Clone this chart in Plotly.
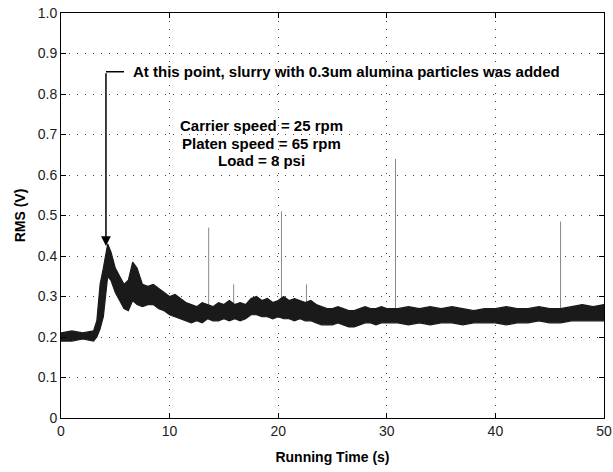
import plotly.graph_objects as go

# envelope of the noisy RMS trace
t = [0, 1, 2, 3, 3.3, 3.6, 3.9, 4.1, 4.3, 4.6, 5.0, 5.4, 5.8, 6.2, 6.6, 7.0, 7.5, 8.0, 8.5, 9.0,
     9.5, 10, 10.5, 11, 11.5, 12, 12.5, 13, 13.5, 14, 14.5, 15, 15.5, 16, 16.5, 17, 17.5, 18, 18.5, 19,
     19.5, 20, 20.5, 21, 21.5, 22, 22.5, 23, 23.5, 24, 24.5, 25, 25.5, 26, 26.5, 27, 27.5, 28, 28.5, 29,
     29.5, 30, 31, 32, 33, 34, 35, 36, 37, 38, 39, 40, 41, 42, 43, 44, 45, 46, 47, 48, 49, 50]
upper = [0.21, 0.215, 0.21, 0.215, 0.24, 0.33, 0.37, 0.40, 0.43, 0.41, 0.37, 0.35, 0.33, 0.34, 0.385, 0.37, 0.33, 0.325, 0.33, 0.32,
         0.31, 0.30, 0.305, 0.295, 0.285, 0.28, 0.275, 0.285, 0.28, 0.275, 0.285, 0.28, 0.29, 0.28, 0.285, 0.28, 0.295, 0.30, 0.29, 0.295,
         0.285, 0.29, 0.30, 0.29, 0.295, 0.29, 0.285, 0.29, 0.28, 0.275, 0.27, 0.27, 0.275, 0.27, 0.265, 0.265, 0.27, 0.275, 0.27, 0.27,
         0.275, 0.27, 0.27, 0.275, 0.27, 0.275, 0.27, 0.275, 0.27, 0.265, 0.27, 0.27, 0.275, 0.27, 0.27, 0.275, 0.27, 0.27, 0.275, 0.28, 0.275, 0.28]
lower = [0.19, 0.19, 0.195, 0.19, 0.20, 0.22, 0.25, 0.30, 0.35, 0.34, 0.31, 0.29, 0.27, 0.265, 0.29, 0.28, 0.275, 0.28, 0.28, 0.27,
         0.265, 0.255, 0.25, 0.245, 0.24, 0.235, 0.24, 0.235, 0.245, 0.24, 0.24, 0.245, 0.24, 0.245, 0.24, 0.245, 0.255, 0.255, 0.25, 0.25,
         0.245, 0.25, 0.245, 0.245, 0.24, 0.245, 0.24, 0.24, 0.235, 0.23, 0.23, 0.23, 0.235, 0.23, 0.225, 0.225, 0.23, 0.235, 0.235, 0.23,
         0.235, 0.235, 0.235, 0.23, 0.235, 0.23, 0.235, 0.235, 0.23, 0.235, 0.235, 0.235, 0.23, 0.235, 0.235, 0.24, 0.235, 0.235, 0.24, 0.24, 0.24, 0.24]

# isolated spikes
spike_t = [13.6, 15.9, 20.3, 22.6, 30.8, 46.0]
spike_top = [0.47, 0.33, 0.51, 0.33, 0.64, 0.485]
spike_base = [0.27, 0.27, 0.28, 0.28, 0.26, 0.26]

xticks = [0, 10, 20, 30, 40, 50]
yticks = [0, 0.1, 0.2, 0.3, 0.4, 0.5, 0.6, 0.7, 0.8, 0.9, 1.0]
ylabels = ["0", "0.1", "0.2", "0.3", "0.4", "0.5", "0.6", "0.7", "0.8", "0.9", "1.0"]

conditions = ["Carrier speed = 25 rpm", "Platen speed = 65 rpm", "Load = 8 psi"]
condition_y = [0.723, 0.679, 0.637]

fig = go.Figure()

sx, sy = [], []
for x0, top, base in zip(spike_t, spike_top, spike_base):
    sx += [x0, x0, None]
    sy += [base, top, None]
fig.add_trace(go.Scatter(x=sx, y=sy, mode="lines", line=dict(color="#888", width=1), hoverinfo="skip"))

fig.add_trace(go.Scatter(x=t, y=lower, mode="lines", line=dict(color="#1a1a1a", width=1.2), hoverinfo="skip"))
fig.add_trace(go.Scatter(x=t, y=upper, mode="lines", fill="tonexty", fillcolor="#1a1a1a",
                         line=dict(color="#1a1a1a", width=1.2), hoverinfo="skip"))

# elbow arrow
fig.add_shape(type="line", x0=4.14, x1=5.8, y0=0.855, y1=0.855, line=dict(color="black", width=1.5))
fig.add_annotation(x=4.14, y=0.425, ax=4.14, ay=0.855, axref="x", ayref="y", xref="x", yref="y",
                   text="", showarrow=True, arrowhead=2, arrowsize=1.3, arrowwidth=1.5, arrowcolor="black")
fig.add_annotation(x=6.4, y=0.855, xanchor="left", yanchor="middle", showarrow=False,
                   text="<b>At this point, slurry with 0.3um alumina particles was added</b>",
                   font=dict(size=15, color="black"))
for line, yv in zip(conditions, condition_y):
    fig.add_annotation(x=18.5, y=yv, showarrow=False, text="<b>" + line + "</b>",
                       font=dict(size=15, color="black"))

axis_style = dict(showline=True, linecolor="black", linewidth=1, mirror="ticks", ticks="inside",
                  ticklen=5, tickcolor="black", showgrid=True, gridcolor="#444", griddash="1px,7px",
                  gridwidth=1, zeroline=False, automargin=False, ticklabeloverflow="allow",
                  tickfont=dict(size=14, color="#222"))

fig.update_xaxes(range=[0, 50], tickvals=xticks, title=dict(text="<b>Running Time (s)</b>", font=dict(size=14, color="black"), standoff=14), **axis_style)
fig.update_yaxes(range=[0, 1.0], tickvals=yticks, ticktext=ylabels, title=dict(text="<b>RMS (V)</b>", font=dict(size=14, color="black"), standoff=8), **axis_style)

fig.update_layout(width=613, height=472, margin=dict(l=61, r=9, t=13, b=54),
                  plot_bgcolor="white", paper_bgcolor="white", showlegend=False,
                  font=dict(family="Liberation Sans, Arial, sans-serif"))

# drop the default 8px body margin so the figure fills the window
fig.write_html("out.html", config={"displayModeBar": False},
               post_script="document.body.style.margin='0';")
